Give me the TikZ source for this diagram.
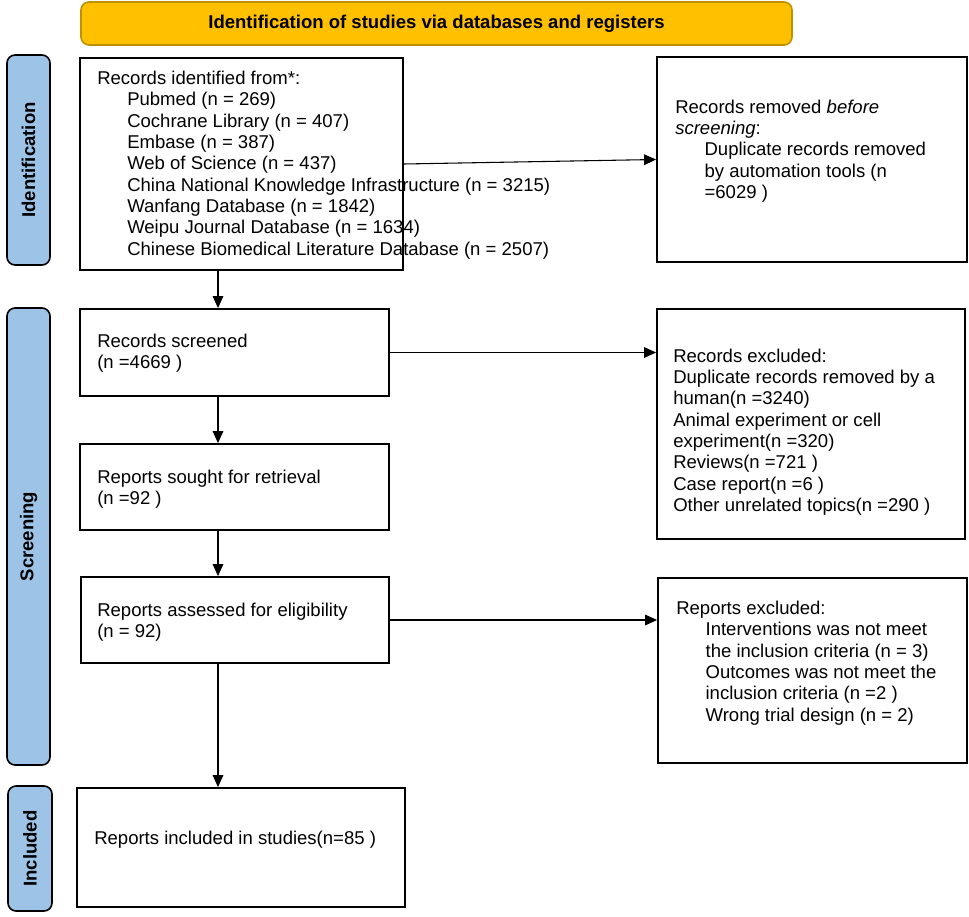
\documentclass[tikz,border=0pt]{standalone}
\usepackage{fontspec}
\setmainfont{Liberation Sans}
\usetikzlibrary{arrows.meta,calc}
\definecolor{bannerfill}{HTML}{FFC000}
\definecolor{bannerdraw}{HTML}{BF9000}
\definecolor{barfill}{HTML}{9DC3E6}
\begin{document}
\begin{tikzpicture}[x=0.75pt,y=-0.75pt,
  boxnode/.style 2 args={draw=black, line width=1.4pt, rectangle, inner sep=0pt,
    minimum width=#1*0.75pt, minimum height=#2*0.75pt},
  barnode/.style 2 args={draw=black, line width=1.2pt, fill=barfill, rectangle,
    rounded corners=6pt, inner sep=0pt, rotate=90,
    minimum width=#1*0.75pt, minimum height=#2*0.75pt,
    font=\fontsize{13.9}{16}\selectfont\bfseries},
  bannernode/.style 2 args={draw=bannerdraw, line width=1.2pt, fill=bannerfill, rectangle,
    rounded corners=6pt, inner sep=0pt,
    minimum width=#1*0.75pt, minimum height=#2*0.75pt,
    font=\fontsize{13.9}{16}\selectfont\bfseries},
  txt/.style={anchor=west, align=left, inner sep=0pt, font=\fontsize{13.9}{16}\selectfont},
  arr/.style={-{Triangle[length=9pt,width=8pt]}, line width=0.8pt}]
\useasboundingbox (0,0) rectangle (969,916);

% banner
\node[bannernode={711}{43}] (banner) at (436.5,23.5) {Identification of studies via databases and registers};

% side bars
\node[barnode={210}{43}] (idbar) at (28.5,160) {Identification};
\node[barnode={457}{43}] (scbar) at (28.5,536.5) {Screening};
\node[barnode={125}{44}] (incbar) at (30,848.5) {Included};

% boxes
\node[boxnode={323}{212}] (box1) at (241.5,164) {};
\node[boxnode={310}{205}] (removed) at (812,159.5) {};
\node[boxnode={309}{87}] (screened) at (234.5,352.5) {};
\node[boxnode={309}{86}] (sought) at (234.5,487) {};
\node[boxnode={308}{86}] (assessed) at (235,620) {};
\node[boxnode={308}{230}] (excluded) at (811,424) {};
\node[boxnode={309}{185}] (repexcl) at (812.5,670.5) {};
\node[boxnode={328}{119}] (included) at (241,847.5) {};

% texts
\node[txt] (t1) at (97,165) {Records identified from*:\\
\hspace*{22.5pt}Pubmed (n = 269)\\
\hspace*{22.5pt}Cochrane Library (n = 407)\\
\hspace*{22.5pt}Embase (n = 387)\\
\hspace*{22.5pt}Web of Science (n = 437)\\
\hspace*{22.5pt}China National Knowledge Infrastructure (n = 3215)\\
\hspace*{22.5pt}Wanfang Database (n = 1842)\\
\hspace*{22.5pt}Weipu Journal Database (n = 1634)\\
\hspace*{22.5pt}Chinese Biomedical Literature Database (n = 2507)};

\node[txt] (t2) at (675,151) {Records removed \textit{before}\\
\textit{screening}:\\
\hspace*{22pt}Duplicate records removed\\
\hspace*{22pt}by automation tools (n\\
\hspace*{22pt}=6029 )};

\node[txt] (t3) at (97,353) {Records screened\\(n =4669 )};
\node[txt] (t4) at (97,489) {Reports sought for retrieval\\(n =92 )};
\node[txt] (t5) at (97,622) {Reports assessed for eligibility\\(n = 92)};

\node[txt] (t6) at (673,432) {Records excluded:\\
Duplicate records removed by a\\
human(n =3240)\\
Animal experiment or cell\\
experiment(n =320)\\
Reviews(n =721 )\\
Case report(n =6 )\\
Other unrelated topics(n =290 )};

\node[txt] (t7) at (676,663) {Reports excluded:\\
\hspace*{22pt}Interventions was not meet\\
\hspace*{22pt}the inclusion criteria (n = 3)\\
\hspace*{22pt}Outcomes was not meet the\\
\hspace*{22pt}inclusion criteria (n =2 )\\
\hspace*{22pt}Wrong trial design (n = 2)};

\node[txt] (t8) at (94,840) {Reports included in studies(n=85 )};

% connectors
\coordinate (ax) at (218,0);
\draw[arr] (box1.south -| ax) -- (screened.north -| ax);
\draw[arr] (screened.south -| ax) -- (sought.north -| ax);
\draw[arr] (sought.south -| ax) -- (assessed.north -| ax);
\draw[arr] (assessed.south -| ax) -- (included.north -| ax);
\draw[arr] (box1.east) -- (removed.west);
\draw[arr] (screened.east) -- (screened.east -| excluded.west);
\draw[arr] (assessed.east) -- (assessed.east -| repexcl.west);
\end{tikzpicture}
\end{document}
